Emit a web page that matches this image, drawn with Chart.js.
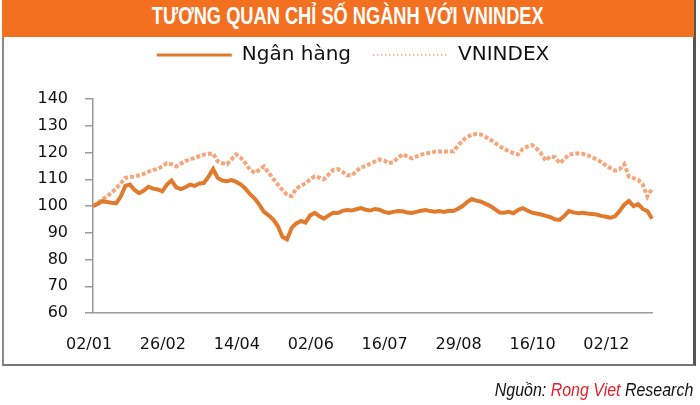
<!DOCTYPE html>
<html>
<head>
<meta charset="utf-8">
<script src="https://cdn.jsdelivr.net/npm/chart.js@4"></script>
<style>
  body { margin: 0; background: #fff; }
  #wrap { position: relative; width: 700px; height: 405px; overflow: hidden; }
  #frame { position: absolute; left: 2px; top: 0; width: 689px; height: 364px;
    border-left: 2px solid #8a8a8a; border-right: 3px solid #555; border-bottom: 2px solid #777; }
  #banner { position: absolute; left: 2px; top: 0; width: 692px; height: 37px; background: #f37021;
    text-align: center; line-height: 38px; }
  #banner span { display: inline-block; color: #fff; font: bold 24px "Liberation Sans", sans-serif;
    transform: scaleX(0.76); transform-origin: center; white-space: nowrap; }
  #source { position: absolute; right: 7px; top: 379px; transform: scaleX(0.84); transform-origin: right;
    font: italic 19px "Liberation Sans", sans-serif; color: #111; white-space: nowrap; }
  #source span { color: #e3202a; }
  canvas { position: absolute; left: 0; top: 0; }
</style>
</head>
<body>
<div id="wrap">
  <div id="frame"></div>
  <div id="banner"><span>TƯƠNG QUAN CHỈ SỐ NGÀNH VỚI VNINDEX</span></div>
  <canvas id="chart" width="700" height="405"></canvas>
  <div id="source">Nguồn: <span>Rong Viet</span> Research</div>
</div>
<script>
// x-axis date labels, one every 16 points
const tickLabels = ['02/01', '26/02', '14/04', '02/06', '16/07', '29/08', '16/10', '02/12'];

const bank = [
  100, 100.8, 101.8, 101.5, 101.2, 101, 103.5, 107.5, 108, 106,
  104.8, 105.8, 107.2, 106.5, 106.2, 105.5, 108, 109.5, 107, 106.3,
  107, 108, 107.5, 108.4, 108.6, 111, 113.8, 110.5, 109.5, 109.3,
  109.7, 109, 108, 106.5, 104.4, 102.8, 100.5, 97.8, 96.5, 95,
  92.5, 88.5, 87.5, 91.8, 93.5, 94.4, 93.8, 96.5, 97.4, 96.2,
  95.3, 96.5, 97.5, 97.4, 98.2, 98.5, 98.3, 98.8, 99.2, 98.6,
  98.3, 98.9, 98.6, 97.8, 97.4, 97.8, 98.1, 98, 97.6, 97.4,
  97.8, 98.2, 98.5, 98.1, 97.9, 98.1, 97.8, 98.2, 98.1, 99,
  100, 101.5, 102.6, 102, 101.6, 100.8, 100, 98.8, 97.6, 97.5,
  97.8, 97.3, 98.5, 99.2, 98.3, 97.5, 97.2, 96.8, 96.3, 95.8,
  95, 94.8, 96.2, 98.1, 97.6, 97.3, 97.5, 97.2, 97, 96.8,
  96.3, 96, 95.6, 96.2, 98.1, 100.5, 101.9, 100, 100.7, 98.9,
  98.1, 95.2
];

const vnindex = [
  100, 101, 102.5, 103.5, 105, 106.5, 108.5, 110.5, 110.8, 111,
  111.5, 112, 112.8, 113.5, 113.8, 114.8, 116, 115.6, 114.8, 115.8,
  116.8, 117.4, 118, 118.6, 119.2, 119.5, 119.6, 116.7, 116, 115.6,
  117.5, 119.3, 118, 116, 113.5, 112.4, 113.5, 114.8, 112.5, 110.2,
  108, 106, 104.2, 103.7, 106.5, 107.6, 108.4, 110, 111.1, 110.6,
  110, 111.8, 113.5, 113.8, 112.8, 111.5, 111.4, 113, 114.5, 114.9,
  115.8, 116.6, 117.4, 117, 116, 116.4, 118, 119.3, 118.6, 117.8,
  118.5, 119.2, 119.6, 119.9, 120.3, 120.4, 120.3, 120.5, 120.4, 122.5,
  124.5, 125.8, 126.7, 126.9, 126.7, 125.8, 124.8, 123.6, 122.3, 121.4,
  120.5, 119.8, 119.3, 121.3, 122.2, 122.8, 121.5, 119.6, 117, 118.5,
  118.3, 116, 117.5, 119.2, 119.4, 119.7, 119.5, 119, 118.2, 117.4,
  116.5, 115.2, 114.1, 113.2, 113.8, 115.6, 111, 110.4, 109.8, 108,
  103.5, 106.5
];

const seriesNames = ['Ngân hàng', 'VNINDEX'];
const categories = bank.map((_, i) => i);

const axisFont = { family: '"DejaVu Sans", sans-serif', size: 16 };

// push the plot down below the legend, and nudge the legend right
const legendGap = {
  id: 'legendGap',
  beforeInit(chart) {
    const fit = chart.legend.fit;
    chart.legend.fit = function () {
      fit.bind(chart.legend)();
      this.height += 24;
    };
  },
  afterLayout(chart) {
    chart.legend.left += 12;
    chart.legend.right += 12;
  }
};

const ctx = document.getElementById('chart');
new Chart(ctx, {
  type: 'line',
  data: {
    labels: categories,
    datasets: [{
      label: seriesNames[0],
      data: bank,
      borderColor: '#e07a2c',
      backgroundColor: '#e07a2c',
      borderWidth: 4,
      pointRadius: 0,
      order: 1
    },
    {
      label: seriesNames[1],
      data: vnindex,
      borderColor: '#f4a67c',
      backgroundColor: '#f4a67c',
      borderWidth: 4,
      borderDash: [4, 2],
      pointRadius: 0,
      order: 2
    }]
  },
  options: {
    responsive: false,
    animation: false,
    layout: { padding: { top: 23, left: 30, right: 48, bottom: 52 } },
    plugins: {
      tooltip: { enabled: false },
      legend: {
        labels: {
          usePointStyle: true,
          pointStyle: 'line',
          pointStyleWidth: 75,
          boxHeight: 20,
          padding: 22,
          color: '#111',
          font: { family: '"DejaVu Sans", sans-serif', size: 20 },
          generateLabels(chart) {
            const items = Chart.defaults.plugins.legend.labels.generateLabels(chart);
            items.forEach((it, i) => {
              it.pointStyle = 'line';
              if (i === 1) { it.lineWidth = 1.5; it.lineDash = [1.5, 2.5]; }
              else { it.lineWidth = 3; it.lineDash = []; }
            });
            return items;
          }
        }
      }
    },
    scales: {
      x: {
        grid: { drawOnChartArea: false, drawTicks: false },
        border: { color: '#9a9a9a', width: 1.5 },
        ticks: {
          autoSkip: false,
          maxRotation: 0,
          minRotation: 0,
          padding: 22,
          labelOffset: -4,
          color: '#111',
          font: axisFont,
          callback: (v, i) => (i % 16 === 0 ? tickLabels[i / 16] : '')
        },
        afterFit(scale) { scale.height = 40; }
      },
      y: {
        min: 60,
        max: 140,
        grid: { drawOnChartArea: false, tickLength: 8, color: '#9a9a9a', lineWidth: 1.5 },
        border: { color: '#9a9a9a', width: 1.5 },
        ticks: { stepSize: 10, padding: 17, color: '#111', font: axisFont },
        afterFit(scale) { scale.width = 63; }
      }
    }
  },
  plugins: [legendGap]
});
</script>
</body>
</html>
